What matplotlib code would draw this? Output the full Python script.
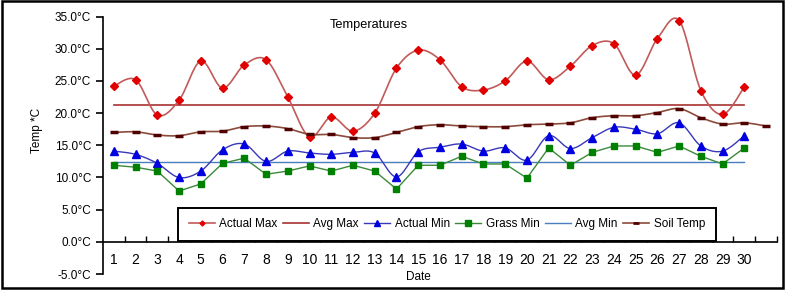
import numpy as np
import matplotlib
matplotlib.use("Agg")
import matplotlib.pyplot as plt
from matplotlib.patches import Rectangle

plt.rcParams['font.family'] = ['Liberation Sans', 'DejaVu Sans']

days = list(range(1, 31))
soil_days = list(range(1, 32))
day_labels = [str(d) for d in days]

actual_max = [24.2, 25.2, 19.7, 22.0, 28.1, 23.9, 27.5, 28.3, 22.5, 16.3,
              19.4, 17.2, 20.0, 27.0, 29.8, 28.3, 24.1, 23.6, 25.0, 28.1,
              25.2, 27.3, 30.5, 30.8, 25.9, 31.6, 34.4, 23.5, 19.8, 24.1]
avg_max = [21.2] * 30
actual_min = [14.1, 13.6, 12.2, 10.0, 11.0, 14.3, 15.2, 12.5, 14.1, 13.8,
              13.6, 13.9, 13.8, 10.1, 14.0, 14.7, 15.2, 14.1, 14.6, 12.7,
              16.5, 14.5, 16.2, 17.8, 17.5, 16.8, 18.5, 14.9, 14.1, 16.5]
grass_min = [11.9, 11.6, 11.0, 7.9, 9.0, 12.2, 13.0, 10.5, 11.0, 11.8,
             11.0, 11.9, 11.0, 8.2, 11.9, 11.9, 13.3, 12.1, 12.1, 9.9,
             14.6, 11.9, 13.9, 14.9, 14.9, 13.9, 14.9, 13.3, 12.1, 14.6]
avg_min = [12.4] * 30
soil_temp = [17.0, 17.1, 16.6, 16.5, 17.1, 17.2, 17.9, 18.0, 17.6, 16.7,
             16.7, 16.2, 16.2, 17.0, 17.9, 18.2, 18.0, 17.9, 17.9, 18.2,
             18.3, 18.5, 19.3, 19.6, 19.6, 20.1, 20.7, 19.3, 18.3, 18.5, 18.0]

y_ticks = [-5, 0, 5, 10, 15, 20, 25, 30, 35]


def smooth(x, y, n=24):
    x = np.asarray(x, float)
    y = np.asarray(y, float)
    px = np.concatenate([[x[0]], x, [x[-1]]])
    py = np.concatenate([[y[0]], y, [y[-1]]])
    xs, ys = [], []
    t = np.linspace(0, 1, n)
    for i in range(1, len(px) - 2):
        p0 = np.array([px[i], py[i]])
        p3 = np.array([px[i + 1], py[i + 1]])
        p1 = p0 + (np.array([px[i + 1], py[i + 1]]) - np.array([px[i - 1], py[i - 1]])) / 6
        p2 = p3 - (np.array([px[i + 2], py[i + 2]]) - np.array([px[i], py[i]])) / 6
        b = ((1 - t) ** 3)[:, None] * p0 + (3 * (1 - t) ** 2 * t)[:, None] * p1 \
            + (3 * (1 - t) * t ** 2)[:, None] * p2 + (t ** 3)[:, None] * p3
        xs.extend(b[:, 0])
        ys.extend(b[:, 1])
    return xs, ys


fig = plt.figure(figsize=(7.86, 2.92), dpi=100)
ax = fig.add_axes([0.131, 0.0616, 0.8575, 0.8814])

c_amax_line = '#C25A5A'
c_amax_mk = '#E00000'
c_avgmax = '#A83232'
c_amin_line = '#3838B8'
c_amin_mk = '#0000E0'
c_grass_line = '#3A8A3A'
c_grass_mk = '#008000'
c_avgmin = '#4A7EC0'
c_soil_line = '#8C4A3A'
c_soil_mk = '#500000'

# Actual Max
sx, sy = smooth(days, actual_max)
ax.plot(sx, sy, color=c_amax_line, lw=1.2, zorder=3)
ax.plot(days, actual_max, 'D', color=c_amax_mk, ms=4.3, zorder=4)
# Avg Max
ax.plot(days, avg_max, color=c_avgmax, lw=1.2, zorder=2)
# Actual Min
sx, sy = smooth(days, actual_min)
ax.plot(sx, sy, color=c_amin_line, lw=1.0, zorder=3)
ax.plot(days, actual_min, '^', color=c_amin_mk, ms=5.3, zorder=4)
# Grass Min
ax.plot(days, grass_min, color=c_grass_line, lw=1.0, zorder=3)
ax.plot(days, grass_min, 's', color=c_grass_mk, ms=5, zorder=4)
# Avg Min
ax.plot(days, avg_min, color=c_avgmin, lw=1.0, zorder=2)
# Soil Temp
sx, sy = smooth(soil_days, soil_temp)
ax.plot(sx, sy, color=c_soil_line, lw=1.2, zorder=3)
ax.plot(soil_days, soil_temp, '_', color=c_soil_mk, ms=5.5, mew=2.5, zorder=4)

# legend proxies
h = [
    plt.Line2D([], [], color=c_amax_line, marker='D', mfc=c_amax_mk, mec=c_amax_mk, ms=2.5, lw=1.2),
    plt.Line2D([], [], color=c_avgmax, lw=1.2),
    plt.Line2D([], [], color=c_amin_line, marker='^', mfc=c_amin_mk, mec=c_amin_mk, ms=4, lw=1.0),
    plt.Line2D([], [], color=c_grass_line, marker='s', mfc=c_grass_mk, mec=c_grass_mk, ms=4, lw=1.0),
    plt.Line2D([], [], color=c_avgmin, lw=1.0),
    plt.Line2D([], [], color=c_soil_line, marker='_', mfc=c_soil_mk, mec=c_soil_mk, ms=4, mew=2, lw=1.2),
]
labels = ['Actual Max', 'Avg Max', 'Actual Min', 'Grass Min', 'Avg Min', 'Soil Temp']
leg = fig.legend(h, labels, loc='lower left', ncol=6, mode='expand',
                 bbox_to_anchor=(0.2265, 0.1747, 0.684, 0.130),
                 bbox_transform=fig.transFigure, fontsize=8.5,
                 frameon=True, fancybox=False, edgecolor='black', framealpha=1,
                 handlelength=2.2, handletextpad=0.4, columnspacing=1.0,
                 borderaxespad=0, borderpad=0.9)
leg.get_frame().set_linewidth(1.4)
leg.set_zorder(10)

ax.set_xlim(0.5, 31.5)
ax.set_ylim(-5, 35)
ax.set_yticks(y_ticks)
ax.set_yticklabels([f'{v:.1f}°C' for v in y_ticks], fontsize=8.5)
ax.set_xticks(days)
ax.set_xticklabels(day_labels, fontsize=8.5)
ax.set_xticks(np.arange(1.5, 32, 1), minor=True)
ax.tick_params(axis='x', which='major', length=0, pad=8)
ax.tick_params(axis='x', which='minor', length=4, direction='in', width=1)
ax.tick_params(axis='y', which='major', length=5, direction='out', width=1.2)

for s in ['top', 'right']:
    ax.spines[s].set_visible(False)
ax.spines['bottom'].set_position(('data', 0))
ax.spines['bottom'].set_linewidth(1.2)
ax.spines['left'].set_linewidth(1.2)
ax.patch.set_alpha(0)

fig.text(369 / 786, 1 - 25 / 292, 'Temperatures', fontsize=9.2, ha='center', va='center')
fig.text(418 / 786, 1 - 277 / 292, 'Date', fontsize=8.5, ha='center', va='center')
fig.text(37 / 786, 1 - 130 / 292, 'Temp *C', fontsize=8.5, ha='center', va='center', rotation=90)

fig.patches.append(Rectangle((0.002, 0.014), 0.994, 0.982, transform=fig.transFigure,
                             fill=False, edgecolor='black', lw=1.8))

fig.savefig('out.png', dpi=100)
